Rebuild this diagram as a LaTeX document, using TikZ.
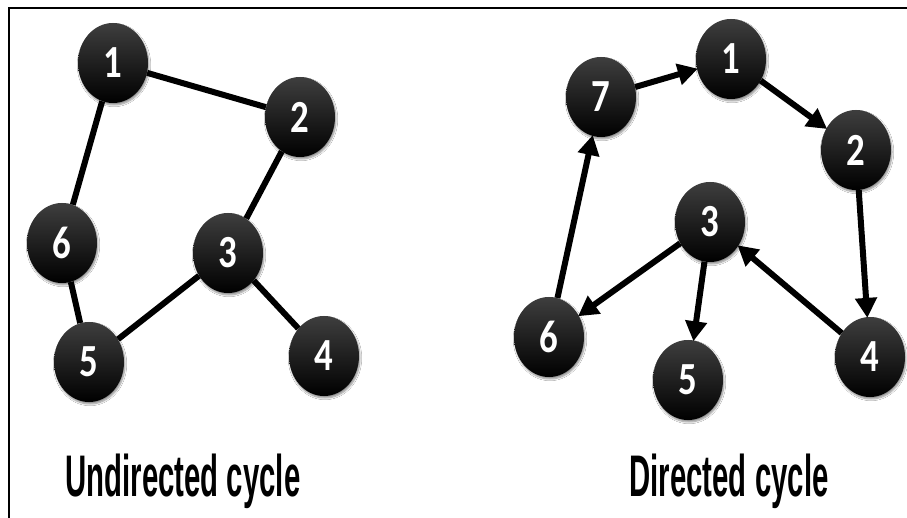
\documentclass[tikz,border=0pt]{standalone}
\usepackage{fontspec}
\newfontfamily\numfont{Carlito}
\newfontfamily\labfont{Liberation Sans}
\usetikzlibrary{shapes.geometric,arrows.meta,shadows.blur}
\definecolor{nodetop}{RGB}{62,62,62}
\newcommand{\dig}[1]{\scalebox{0.8}[1]{\numfont\bfseries\fontsize{46}{46}\selectfont #1}}
\tikzset{
  vertex/.style={ellipse, minimum width=70pt, minimum height=80pt, inner sep=0pt,
    top color=nodetop, bottom color=black, draw=none,
    blur shadow={shadow xshift=1pt, shadow yshift=-2pt, shadow blur steps=6, shadow opacity=45},
    text=white},
  uedge/.style={line width=6pt, black},
  dedge/.style={line width=6pt, black, -{Triangle[length=20pt,width=21pt]}, shorten >=-1pt},
  caption/.style={inner sep=0pt, anchor=center}
}
\begin{document}
\begin{tikzpicture}[x=1pt,y=-1pt]
\useasboundingbox[fill=white] (0,0) rectangle (907,518);
\draw[line width=2pt] (9,518) -- (9,8) -- (907,8);
% undirected
\node[vertex] (u1) at (113,63) {\dig{1}};
\node[vertex] (u2) at (300,117) {\dig{2}};
\node[vertex] (u6) at (62,243) {\dig{6}};
\node[vertex] (u3) at (228,253) {\dig{3}};
\node[vertex] (u5) at (89,362) {\dig{5}};
\node[vertex] (u4) at (324,356) {\dig{4}};
% directed
\node[vertex] (d7) at (601,97) {\dig{7}};
\node[vertex] (d1) at (731,59) {\dig{1}};
\node[vertex] (d2) at (856,150) {\dig{2}};
\node[vertex] (d3) at (710,222) {\dig{3}};
\node[vertex] (d6) at (549,337) {\dig{6}};
\node[vertex] (d5) at (688,380) {\dig{5}};
\node[vertex] (d4) at (870,357) {\dig{4}};
% undirected edges
\draw[uedge] (u1) -- (u2);
\draw[uedge] (u1) -- (u6);
\draw[uedge] (u2) -- (u3);
\draw[uedge] (u6) -- (u5);
\draw[uedge] (u5) -- (u3);
\draw[uedge] (u3) -- (u4);
% directed edges
\draw[dedge] (d7) -- (d1);
\draw[dedge] (d1) -- (d2);
\draw[dedge] (d2) -- (d4);
\draw[dedge] (d4) -- (d3);
\draw[dedge] (d3) -- (d6);
\draw[dedge] (d3) -- (d5);
\draw[dedge] (d6) -- (d7);
% captions
\node[caption] (cu) at (183,481) {\scalebox{0.5}[1]{\labfont\bfseries\fontsize{58.7}{60}\selectfont Undirected cycle}};
\node[caption] (cd) at (729,481) {\scalebox{0.5}[1]{\labfont\bfseries\fontsize{58.7}{60}\selectfont Directed cycle}};
\end{tikzpicture}
\end{document}
